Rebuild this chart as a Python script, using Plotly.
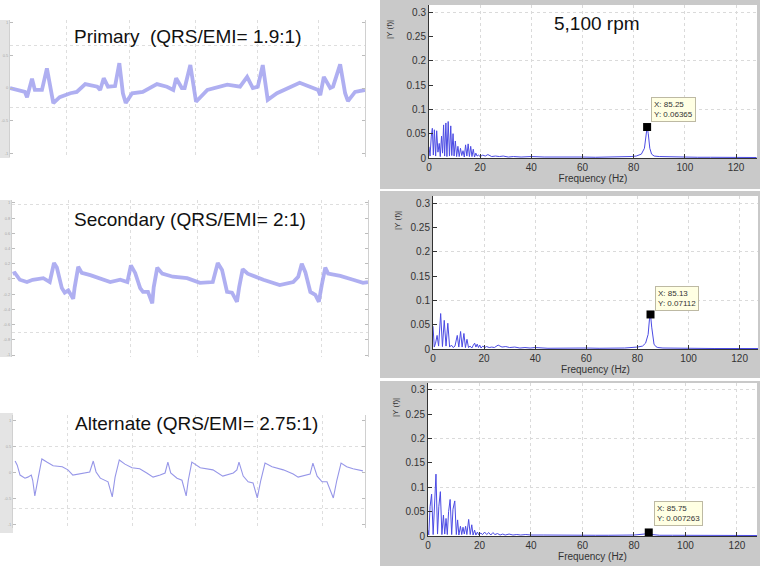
import plotly.graph_objects as go

W, H = 760, 568

# ---------------- data ----------------
# ECG recordings (time in s, amplitude in mV-like units)
primary_t = [0, 0.21, 0.24, 0.31, 0.35, 0.45, 0.52, 0.59, 0.61, 0.70, 0.85, 0.94, 1.06, 1.23, 1.27, 1.32, 1.38,
             1.48, 1.54, 1.59, 1.63, 1.72, 1.87, 2.07, 2.21, 2.30, 2.34, 2.42, 2.46, 2.54, 2.62, 2.78, 3.06, 3.24,
             3.34, 3.42, 3.49, 3.56, 3.63, 3.76, 4.08, 4.34, 4.37, 4.42, 4.51, 4.55, 4.65, 4.72, 4.76, 4.86, 5.0]
primary_v = [0, -0.06, -0.14, 0.14, -0.03, -0.03, 0.30, -0.14, -0.23, -0.14, -0.08, -0.06, 0.06, 0.02, -0.03, 0.15,
             0.02, 0.03, 0.38, -0.08, -0.23, -0.08, -0.06, 0.06, 0.02, -0.03, 0.15, 0.0, 0.0, 0.35, -0.21, -0.03,
             0.05, 0.02, 0.17, 0.0, 0.02, 0.35, -0.18, -0.08, 0.08, -0.03, -0.11, 0.17, 0.0, 0.02, 0.36, -0.08,
             -0.20, -0.06, -0.03]

secondary_t = [0.01, 0.04, 0.11, 0.21, 0.29, 0.44, 0.53, 0.59, 0.63, 0.70, 0.74, 0.79, 0.86, 0.88, 0.93, 0.98,
               1.10, 1.24, 1.38, 1.52, 1.62, 1.67, 1.73, 1.80, 1.84, 1.91, 1.97, 1.99, 2.04, 2.11, 2.26, 2.46,
               2.64, 2.82, 2.89, 2.95, 3.02, 3.09, 3.16, 3.19, 3.24, 3.31, 3.53, 3.76, 3.95, 4.02, 4.07, 4.12,
               4.19, 4.26, 4.31, 4.35, 4.40, 4.44, 4.61, 4.79, 4.93, 5.0]
secondary_v = [0.07, 0.08, -0.01, -0.04, -0.01, 0.01, -0.04, 0.21, 0.15, -0.12, -0.18, -0.15, -0.26, -0.11, 0.16,
               0.08, 0.05, 0.01, -0.04, -0.01, -0.04, 0.18, 0.08, -0.12, -0.17, -0.17, -0.32, -0.11, 0.15, 0.07,
               0.03, 0.01, -0.05, -0.04, 0.21, 0.12, -0.17, -0.18, -0.30, -0.11, 0.13, 0.07, -0.01, -0.08, -0.04,
               0.03, 0.20, 0.09, -0.17, -0.21, -0.30, -0.08, 0.15, 0.07, 0.04, -0.01, -0.05, -0.04]

alternate_t = [0.03, 0.06, 0.10, 0.17, 0.21, 0.26, 0.28, 0.31, 0.36, 0.41, 0.48, 0.57, 0.70, 0.78, 0.85, 0.95,
               1.05, 1.09, 1.14, 1.18, 1.24, 1.32, 1.35, 1.41, 1.45, 1.51, 1.59, 1.69, 1.80, 1.90, 1.99, 2.09,
               2.16, 2.20, 2.24, 2.33, 2.40, 2.46, 2.49, 2.54, 2.66, 2.84, 2.98, 3.13, 3.18, 3.21, 3.27, 3.34,
               3.41, 3.47, 3.52, 3.58, 3.68, 3.84, 3.98, 4.05, 4.22, 4.26, 4.32, 4.39, 4.46, 4.55, 4.60, 4.66,
               4.74, 4.83, 4.97]
alternate_v = [0.23, 0.15, -0.04, -0.10, -0.08, -0.04, -0.14, -0.44, -0.08, 0.27, 0.21, 0.14, 0.12, 0.06, -0.04,
               -0.02, 0.0, 0.02, 0.23, 0.02, -0.10, -0.14, -0.17, -0.46, -0.08, 0.25, 0.17, 0.10, 0.08, 0.0, -0.08,
               -0.04, 0.0, 0.21, 0.0, -0.10, -0.14, -0.44, -0.14, 0.21, 0.10, 0.06, -0.06, 0.0, 0.06, 0.21, -0.06,
               -0.17, -0.19, -0.48, -0.14, 0.19, 0.12, 0.06, -0.02, -0.08, -0.02, 0.19, -0.06, -0.17, -0.17, -0.48,
               -0.14, 0.19, 0.12, 0.08, 0.04]

# Single-sided amplitude spectra |Y(f)|
freq_primary = [0, 0.4, 0.9, 1.3, 1.7, 2.1, 2.6, 3.0, 3.5, 4.0, 4.4, 4.9, 5.3, 5.7, 6.1, 6.6, 7.0, 7.5, 8.0, 8.5,
                8.9, 9.4, 9.8, 10.3, 10.8, 11.3, 11.8, 12.3, 12.8, 13.3, 13.8, 14.3, 14.8, 15.3, 15.8, 16.3, 16.8,
                17.3, 17.8, 18.3, 18.8, 19.3, 20.0, 21.0, 22.0, 23.0, 24.5, 26, 27.5, 29, 31, 33, 36, 40, 45, 50,
                55, 60, 65, 70, 75, 79, 81, 83, 84.2, 84.8, 85.25, 85.7, 86.3, 87, 88, 90, 95, 100, 105, 110, 115,
                120, 128]
amp_primary = [0.023, 0.004, 0.045, 0.061, 0.006, 0.058, 0.004, 0.056, 0.012, 0.03, 0.003, 0.045, 0.01, 0.068,
               0.004, 0.072, 0.003, 0.075, 0.004, 0.066, 0.005, 0.05, 0.004, 0.035, 0.003, 0.024, 0.003, 0.02,
               0.005, 0.015, 0.002, 0.027, 0.004, 0.029, 0.003, 0.024, 0.003, 0.018, 0.002, 0.01, 0.004, 0.006,
               0.003, 0.006, 0.004, 0.007, 0.003, 0.004, 0.003, 0.004, 0.002, 0.003, 0.002, 0.003, 0.002, 0.0025,
               0.002, 0.002, 0.0015, 0.002, 0.0015, 0.003, 0.004, 0.008, 0.02, 0.045, 0.0637, 0.05, 0.02, 0.008,
               0.004, 0.003, 0.002, 0.0015, 0.0015, 0.0015, 0.001, 0.001, 0.001]

freq_secondary = [0, 0.5, 1.0, 1.6, 2.2, 3.0, 3.7, 4.4, 5.1, 5.8, 6.5, 7.2, 7.9, 8.6, 9.5, 10.1, 10.8, 11.4, 12.1,
                  12.7, 13.3, 13.9, 14.5, 15.2, 15.8, 16.3, 16.8, 17.3, 17.8, 18.3, 18.8, 19.5, 20.2, 21.0, 22.0,
                  23.0, 24.0, 25.5, 27.0, 28.5, 30, 32, 34, 36, 38, 40, 45, 50, 55, 60, 65, 70, 75, 80, 82, 83.2,
                  84.2, 84.7, 85.13, 85.6, 86.0, 86.5, 87.2, 88, 90, 95, 100, 110, 120, 128]
amp_secondary = [0.047, 0.004, 0.012, 0.028, 0.006, 0.073, 0.005, 0.059, 0.006, 0.053, 0.004, 0.008, 0.003, 0.006,
                 0.028, 0.004, 0.036, 0.004, 0.032, 0.003, 0.02, 0.003, 0.006, 0.002, 0.008, 0.012, 0.004, 0.01,
                 0.003, 0.008, 0.002, 0.006, 0.003, 0.005, 0.003, 0.004, 0.003, 0.008, 0.004, 0.005, 0.003, 0.004,
                 0.002, 0.003, 0.002, 0.003, 0.0015, 0.002, 0.0015, 0.002, 0.0015, 0.0015, 0.002, 0.004, 0.006,
                 0.012, 0.03, 0.06, 0.0711, 0.045, 0.024, 0.01, 0.005, 0.003, 0.002, 0.0015, 0.0015, 0.001, 0.001,
                 0.001]

freq_alternate = [0, 0.3, 0.8, 1.4, 2.0, 2.5, 3.1, 3.7, 4.2, 4.8, 5.4, 6.0, 6.5, 7.0, 7.5, 8.0, 8.6, 9.2, 9.7,
                  10.4, 11.0, 11.5, 12.0, 12.6, 13.1, 13.6, 14.1, 14.6, 15.1, 15.8, 16.4, 17.0, 17.5, 18.1, 18.6,
                  19.2, 19.8, 20.5, 21.2, 22.0, 22.8, 23.6, 24.4, 25.2, 26.0, 27, 28, 29, 30, 31.5, 33, 34.5, 36,
                  38, 40, 45, 50, 55, 60, 65, 70, 75, 80, 84, 85.75, 87, 90, 95, 100, 105, 110, 115, 120, 128]
amp_alternate = [0.012, 0.002, 0.06, 0.086, 0.003, 0.07, 0.127, 0.004, 0.06, 0.091, 0.003, 0.043, 0.004, 0.036,
                 0.003, 0.05, 0.075, 0.003, 0.055, 0.072, 0.003, 0.033, 0.002, 0.02, 0.003, 0.018, 0.004, 0.02,
                 0.003, 0.034, 0.003, 0.023, 0.002, 0.012, 0.002, 0.008, 0.002, 0.006, 0.003, 0.008, 0.003, 0.007,
                 0.002, 0.007, 0.003, 0.005, 0.002, 0.004, 0.002, 0.004, 0.002, 0.003, 0.002, 0.003, 0.002, 0.002,
                 0.0015, 0.0015, 0.002, 0.0015, 0.0015, 0.0015, 0.002, 0.004, 0.0073, 0.003, 0.0015, 0.0015,
                 0.0015, 0.001, 0.0015, 0.001, 0.001, 0.001]

# data-tip points
tip_x = [85.25, 85.13, 85.75]
tip_y = [0.06365, 0.07112, 0.007263]
tip_text_y = ["0.06365", "0.07112", "0.007263"]

# titles / labels
left_titles = ["Primary  (QRS/EMI= 1.9:1)", "Secondary (QRS/EMI= 2:1)", "Alternate (QRS/EMI= 2.75:1)"]
rpm_label = "5,100 rpm"
freq_ticks = [0, 20, 40, 60, 80, 100, 120]
amp_ticks = [0, 0.05, 0.1, 0.15, 0.2, 0.25, 0.3]
amp_tick_text = ["0", "0.05", "0.1", "0.15", "0.2", "0.25", "0.3"]
ecg_ticks_a = [1, 0.5, 0, -0.5, -1]
ecg_ticks_b = [1, 0.8, 0.6, 0.4, 0.2, 0, -0.2, -0.4, -0.6, -0.8, -1]

# ---------------- layout helpers ----------------
def fx(p):
    return p / W

def fy(p):
    return 1 - p / H

FONT = "Liberation Sans, Arial, Helvetica, sans-serif"

fig = go.Figure()
shapes = []
annotations = []

# left panels: (t, v, xdomain px, ydomain px, yrange, yticks, grid y, grid x, line style)
left_panels = [
    (primary_t, primary_v, (10, 365), (20, 157), [-1.053, 1.038], ecg_ticks_a, [0.656, -0.305],
     [0.80, 1.69, 2.61, 3.49, 4.35], dict(color="rgba(155,155,238,0.8)", width=3.8)),
    (secondary_t, secondary_v, (12, 368), (200, 357), [-1.026, 1.039], ecg_ticks_b, [0.974, -0.71],
     [0.79, 1.66, 2.60, 3.46, 4.35], dict(color="rgba(155,155,238,0.8)", width=3.8)),
    (alternate_t, alternate_v, (13, 365), (415, 528), [-1.058, 1.115], ecg_ticks_a, [0.5, -0.69],
     [0.78, 1.70, 2.59, 3.48, 4.39], dict(color="#9696e8", width=1.1)),
]
left_strips = [((0, 10), (20, 158)), ((0, 12), (200, 357)), ((0, 13), (413, 533))]

for (xs, ys) in left_strips:
    shapes.append(dict(type="rect", xref="paper", yref="paper", x0=fx(xs[0]), x1=fx(xs[1]),
                       y0=fy(ys[1]), y1=fy(ys[0]), fillcolor="#e4e4e4", line=dict(width=0), layer="below"))

layout_axes = {}
for i, (t, v, xd, yd, yr, yt, gy, gx, ls) in enumerate(left_panels):
    n = i + 1
    sx = "" if n == 1 else str(n)
    fig.add_trace(go.Scatter(x=t, y=v, mode="lines", line=ls, xaxis="x" + sx, yaxis="y" + sx,
                             hoverinfo="skip", showlegend=False))
    layout_axes["xaxis" + sx] = dict(
        domain=[fx(xd[0]), fx(xd[1])], range=[0, 5], anchor="y" + sx, showline=False, showticklabels=False,
        ticks="", showgrid=False, zeroline=False, automargin=False,
        minor=dict(tickmode="array", tickvals=gx, showgrid=True, gridcolor="#dedede", griddash="dot",
                   gridwidth=1, ticks=""))
    layout_axes["yaxis" + sx] = dict(
        domain=[fy(yd[1]), fy(yd[0])], range=yr, anchor="x" + sx, tickmode="array", tickvals=yt,
        ticktext=[("%g" % val) for val in yt], tickfont=dict(size=4, color="#a8a8a8", family=FONT),
        ticks="inside", ticklen=3, tickcolor="#bcbcbc", showline=True, linecolor="#d0d0d0", linewidth=1,
        mirror="ticks", showgrid=False, zeroline=False, automargin=False,
        minor=dict(tickmode="array", tickvals=gy, showgrid=True, gridcolor="#dedede", griddash="dot",
                   gridwidth=1, ticks=""))

# right panels (spectra)
right_panels = [
    (freq_primary, amp_primary, (429, 757), (5, 158), [0, 128.2], [0, 0.3144], (0, 189), 389),
    (freq_secondary, amp_secondary, (433, 758), (196, 349), [0, 127.2], [0, 0.315], (191, 378), 397),
    (freq_alternate, amp_alternate, (428, 757), (383, 536), [0, 127.8], [0, 0.314], (381, 566), 395),
]
tip_shift = [(4, 5), (4, 3), (5, 6)]
for i, (f, a, xd, yd, xr, yr, gray, ylab_x) in enumerate(right_panels):
    n = i + 4
    sx = str(n)
    shapes.append(dict(type="rect", xref="paper", yref="paper", x0=fx(380), x1=fx(760),
                       y0=fy(gray[1]), y1=fy(gray[0]), fillcolor="#c9c9c9", line=dict(width=0), layer="below"))
    shapes.append(dict(type="rect", xref="paper", yref="paper", x0=fx(xd[0]), x1=fx(xd[1]),
                       y0=fy(yd[1]), y1=fy(yd[0]), fillcolor="white", line=dict(width=0), layer="below"))
    fig.add_trace(go.Scatter(x=f, y=a, mode="lines", line=dict(color="#4b4be4", width=1),
                             xaxis="x" + sx, yaxis="y" + sx, hoverinfo="skip", showlegend=False))
    fig.add_trace(go.Scatter(x=[tip_x[i]], y=[tip_y[i]], mode="markers",
                             marker=dict(symbol="square", size=8, color="black"),
                             xaxis="x" + sx, yaxis="y" + sx, hoverinfo="skip", showlegend=False,
                             cliponaxis=False))
    layout_axes["xaxis" + sx] = dict(
        domain=[fx(xd[0]), fx(xd[1])], range=xr, anchor="y" + sx, tickmode="array", tickvals=freq_ticks,
        ticks="inside", ticklen=4, tickcolor="#333", showline=True, linecolor="#333", linewidth=1,
        tickfont=dict(size=10, color="#333", family=FONT), showgrid=True, gridcolor="#dadada",
        griddash="dot", zeroline=False, automargin=False,
        title=dict(text="Frequency (Hz)", font=dict(size=10, color="#333", family=FONT), standoff=2))
    layout_axes["yaxis" + sx] = dict(
        domain=[fy(yd[1]), fy(yd[0])], range=yr, anchor="x" + sx, tickmode="array", tickvals=amp_ticks,
        ticktext=amp_tick_text, ticks="inside", ticklen=4, tickcolor="#333", showline=True, linecolor="#333",
        linewidth=1, tickfont=dict(size=10, color="#333", family=FONT), showgrid=False, zeroline=False,
        automargin=False,
        minor=dict(tickmode="array", tickvals=[0.1, 0.2, 0.3], showgrid=True, gridcolor="#dadada",
                   griddash="dot", ticks=""))
    annotations.append(dict(xref="paper", yref="paper", x=fx(ylab_x), y=fy(yd[0] + 25), text="|Y (f)|",
                            textangle=-90, showarrow=False, font=dict(size=8, color="#333", family=FONT),
                            xanchor="center", yanchor="middle"))
    annotations.append(dict(xref="x" + sx, yref="y" + sx, x=tip_x[i], y=tip_y[i],
                            text="X: %g<br>Y: %s" % (tip_x[i], tip_text_y[i]), showarrow=False,
                            xanchor="left", yanchor="bottom", xshift=tip_shift[i][0], yshift=tip_shift[i][1],
                            align="left", bgcolor="#ffffe3", bordercolor="#bdb9a3", borderwidth=1, borderpad=2,
                            font=dict(size=8, color="#333", family=FONT)))

title_pos = [(188, 37), (190, 220), (196, 423)]
for txt, (px, py) in zip(left_titles, title_pos):
    annotations.append(dict(xref="paper", yref="paper", x=fx(px), y=fy(py), text=txt, showarrow=False,
                            xanchor="center", yanchor="middle", font=dict(size=19, color="#111", family=FONT)))
annotations.append(dict(xref="paper", yref="paper", x=fx(597), y=fy(23), text=rpm_label, showarrow=False,
                        xanchor="center", yanchor="middle", font=dict(size=19, color="#111", family=FONT)))

fig.update_layout(
    width=W, height=H, margin=dict(l=0, r=0, t=0, b=0, autoexpand=False), paper_bgcolor="white",
    plot_bgcolor="white", showlegend=False, shapes=shapes, annotations=annotations, font=dict(family=FONT),
    **layout_axes)

fig.write_html("out.html", config={"displayModeBar": False},
               post_script="document.body.style.margin='0px';document.body.style.overflow='hidden';")
